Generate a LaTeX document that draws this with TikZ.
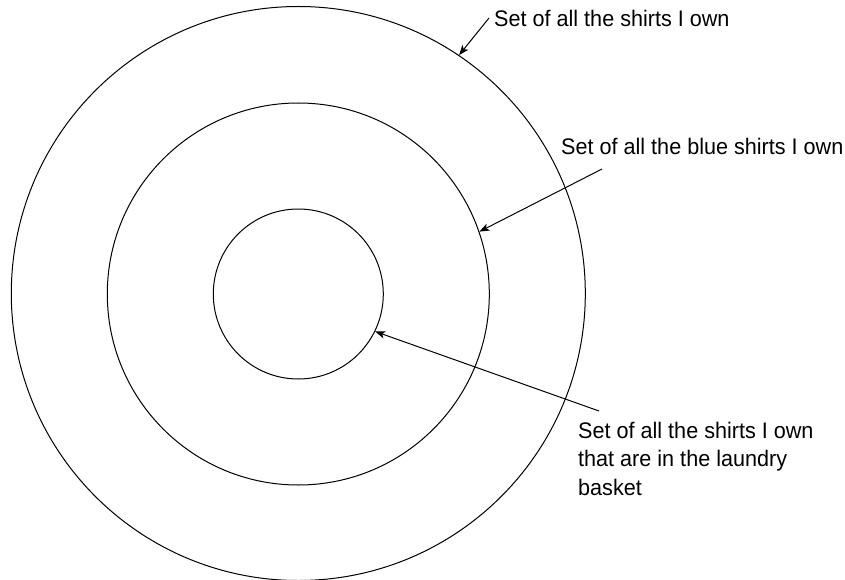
\documentclass[tikz,border=0pt]{standalone}
\usepackage{fontspec}
\setmainfont[FakeStretch=0.96]{Liberation Sans}
\usetikzlibrary{arrows.meta}
\begin{document}
\begin{tikzpicture}[x=1pt,y=-1pt,
  ring/.style={circle,draw=black,line width=1pt,inner sep=0pt},
  lbl/.style={inner sep=0pt,align=left,font=\fontsize{22.5}{28.5}\selectfont},
  pointer/.style={draw=black,line width=1pt,-{Stealth[length=10pt,width=7.5pt,inset=2.5pt]}}]
\useasboundingbox (0,0) rectangle (845,580);
\node[ring,minimum size=574pt] (outer) at (298.3,293.5) {};
\node[ring,minimum size=382pt] (middle) at (298.3,294) {};
\node[ring,minimum size=170pt] (inner) at (298.3,294) {};
\node[lbl,anchor=base west] (l1) at (494,27) {Set of all the shirts I own};
\node[lbl,anchor=base west] (l2) at (561,155) {Set of all the blue shirts I own};
\node[lbl,anchor=north west] (l3) at (578,421.8) {Set of all the shirts I own\\that are in the laundry\\basket};
\coordinate (s1) at (489,18);
\coordinate (s2) at (602,169);
\coordinate (s3) at (599,411);
\draw[pointer] (s1) -- (outer.56.85);
\draw[pointer] (s2) -- (middle.19.67);
\draw[pointer] (s3) -- (inner.-26.2);
\end{tikzpicture}
\end{document}
